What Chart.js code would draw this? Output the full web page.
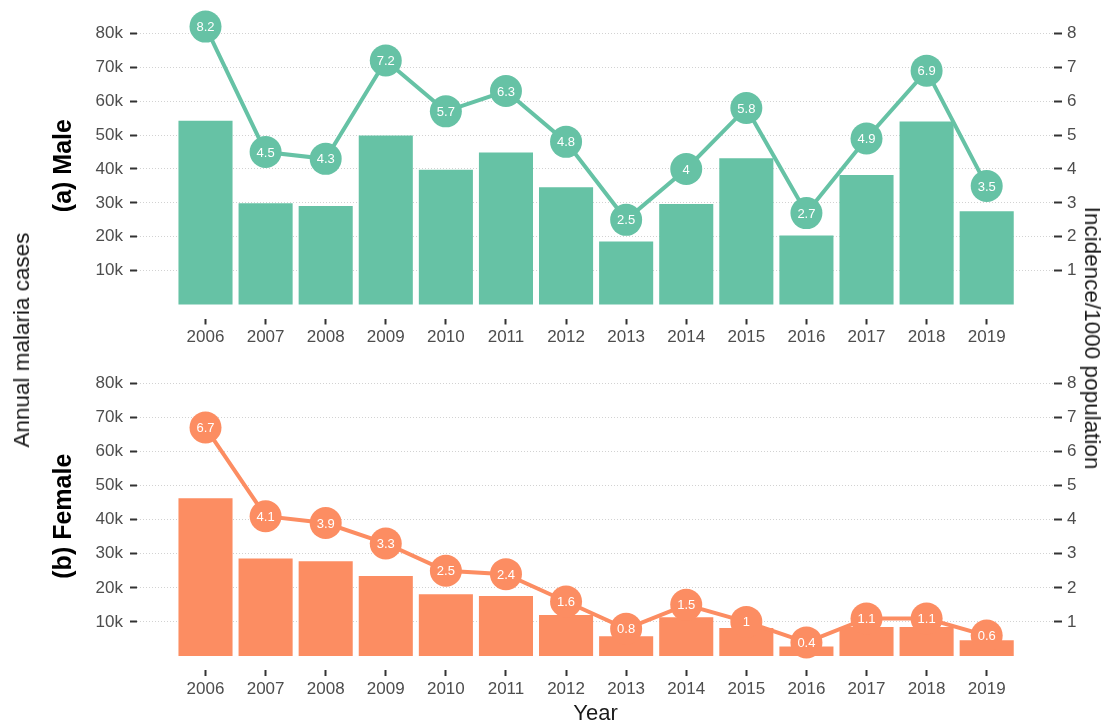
<!DOCTYPE html>
<html>
<head>
<meta charset="utf-8">
<script src="https://cdn.jsdelivr.net/npm/chart.js@4.4.1/dist/chart.umd.min.js"></script>
<style>
    html, body { margin: 0; padding: 0; background: #fff; }
    body { width: 1105px; height: 727px; position: relative; overflow: hidden; font-family: "Liberation Sans", Arial, sans-serif; }
    .panel { position: absolute; left: 0; width: 1105px; }
    .side-title { position: absolute; white-space: nowrap; font-size: 22.5px; color: #1a1a1a; }
</style>
</head>
<body>
<div class="panel" style="top:0;height:350px"><canvas id="maleChart"></canvas></div>
<div class="panel" style="top:350px;height:377px"><canvas id="femaleChart"></canvas></div>
<div class="side-title" style="left:22px;top:340px;transform:translate(-50%,-50%) rotate(-90deg)">Annual malaria cases</div>
<div class="side-title" style="left:1092px;top:338px;transform:translate(-50%,-50%) rotate(90deg)">Incidence/1000 population</div>
<script>
const years = [2006, 2007, 2008, 2009, 2010, 2011, 2012, 2013, 2014, 2015, 2016, 2017, 2018, 2019];

const maleCases = [54200, 29900, 29100, 49900, 39800, 44900, 34600, 18600, 29700, 43200, 20400, 38200, 54000, 27500];
const maleIncidence = [8.2, 4.5, 4.3, 7.2, 5.7, 6.3, 4.8, 2.5, 4, 5.8, 2.7, 4.9, 6.9, 3.5];

const femaleCases = [46300, 28600, 27800, 23500, 18100, 17600, 12000, 5800, 11400, 8200, 2800, 8500, 8500, 4600];
const femaleIncidence = [6.7, 4.1, 3.9, 3.3, 2.5, 2.4, 1.6, 0.8, 1.5, 1, 0.4, 1.1, 1.1, 0.6];

const caseTicks = [10000, 20000, 30000, 40000, 50000, 60000, 70000, 80000];
const incidenceTicks = [1, 2, 3, 4, 5, 6, 7, 8];

const GREEN = '#66C2A5';
const ORANGE = '#FC8D62';
const TICK_TEXT = '#4d4d4d';

Chart.defaults.font.family = '"Liberation Sans", Arial, sans-serif';

// white numbers inside the circles
const circleLabels = {
    id: 'circleLabels',
    afterDatasetsDraw(chart) {
        const ctx = chart.ctx;
        const ds = chart.data.datasets[0];
        const meta = chart.getDatasetMeta(0);
        ctx.save();
        ctx.fillStyle = '#fff';
        ctx.font = '13px "Liberation Sans", Arial, sans-serif';
        ctx.textAlign = 'center';
        ctx.textBaseline = 'middle';
        meta.data.forEach((pt, i) => {
            ctx.fillText(String(ds.data[i].y), pt.x, pt.y + 1);
        });
        ctx.restore();
    }
};

// vertical axes should not push the plot area down for their end labels
const noEdgePadding = (s) => {
    s.paddingTop = 0;
    s.paddingBottom = 0;
};

const makePanel = (canvasId, cases, incidence, color, panelLabel, cfg) => {
    const ctx = document.getElementById(canvasId).getContext('2d');
    return new Chart(ctx, {
        type: 'bar',
        data: {
            datasets: [{
                type: 'line',
                data: years.map((yr, i) => ({ x: yr, y: incidence[i] })),
                yAxisID: 'y1',
                borderColor: color,
                borderWidth: 4,
                pointRadius: 16,
                pointBackgroundColor: color,
                pointBorderWidth: 0,
                tension: 0,
                clip: false,
                order: 0
            }, {
                type: 'bar',
                data: years.map((yr, i) => ({ x: yr, y: cases[i] })),
                yAxisID: 'y',
                backgroundColor: color,
                borderWidth: 0,
                barPercentage: 0.9,
                categoryPercentage: 1,
                order: 1
            }]
        },
        options: {
            responsive: true,
            maintainAspectRatio: false,
            animation: false,
            events: [],
            layout: {
                autoPadding: false,
                padding: { left: 40, right: 25, top: cfg.padTop, bottom: 0 }
            },
            plugins: {
                legend: { display: false },
                tooltip: { enabled: false }
            },
            scales: {
                x: {
                    type: 'linear',
                    min: 2004.86,
                    max: 2020.12,
                    offset: false,
                    afterBuildTicks: (s) => { s.ticks = years.map(v => ({ value: v })); },
                    afterFit: (s) => { s.height = cfg.xHeight; },
                    grid: { drawOnChartArea: false, offset: false, tickLength: 6, tickWidth: 2, tickColor: '#333' },
                    border: { display: false },
                    ticks: {
                        color: TICK_TEXT,
                        font: { size: 17 },
                        padding: 3,
                        autoSkip: false,
                        maxRotation: 0,
                        callback: (v) => String(v)
                    },
                    title: {
                        display: cfg.showYear,
                        text: 'Year',
                        color: '#1a1a1a',
                        font: { size: 22 },
                        padding: { top: 0, bottom: 0 }
                    }
                },
                y: {
                    position: 'left',
                    min: -4100,
                    max: 86100,
                    afterBuildTicks: (s) => { s.ticks = caseTicks.map(v => ({ value: v })); },
                    afterFit: (s) => { s.width = 97; noEdgePadding(s); },
                    grid: { color: '#d2d2d2', lineWidth: 1, tickLength: 7, tickWidth: 2, tickColor: '#333', tickBorderDash: [] },
                    border: { display: false, dash: [1, 2] },
                    ticks: {
                        color: TICK_TEXT,
                        font: { size: 17 },
                        padding: 7,
                        callback: (v) => (v / 1000) + 'k'
                    },
                    title: {
                        display: true,
                        text: panelLabel,
                        color: '#000',
                        font: { size: 25, weight: 'bold' },
                        padding: { top: 9, bottom: 0 }
                    }
                },
                y1: {
                    position: 'right',
                    min: -0.41,
                    max: 8.61,
                    afterBuildTicks: (s) => { s.ticks = incidenceTicks.map(v => ({ value: v })); },
                    afterFit: (s) => { s.width = 26; noEdgePadding(s); },
                    grid: { drawOnChartArea: false, tickLength: 8, tickWidth: 2, tickColor: '#333' },
                    border: { display: false },
                    ticks: {
                        color: TICK_TEXT,
                        font: { size: 17 },
                        padding: 5,
                        callback: (v) => String(v)
                    }
                }
            }
        },
        plugins: [circleLabels]
    });
};

makePanel('maleChart', maleCases, maleIncidence, GREEN, '(a) Male', { padTop: 12.7, xHeight: 31.5, showYear: false });
makePanel('femaleChart', femaleCases, femaleIncidence, ORANGE, '(b) Female', { padTop: 12.4, xHeight: 57, showYear: true });
</script>
</body>
</html>
